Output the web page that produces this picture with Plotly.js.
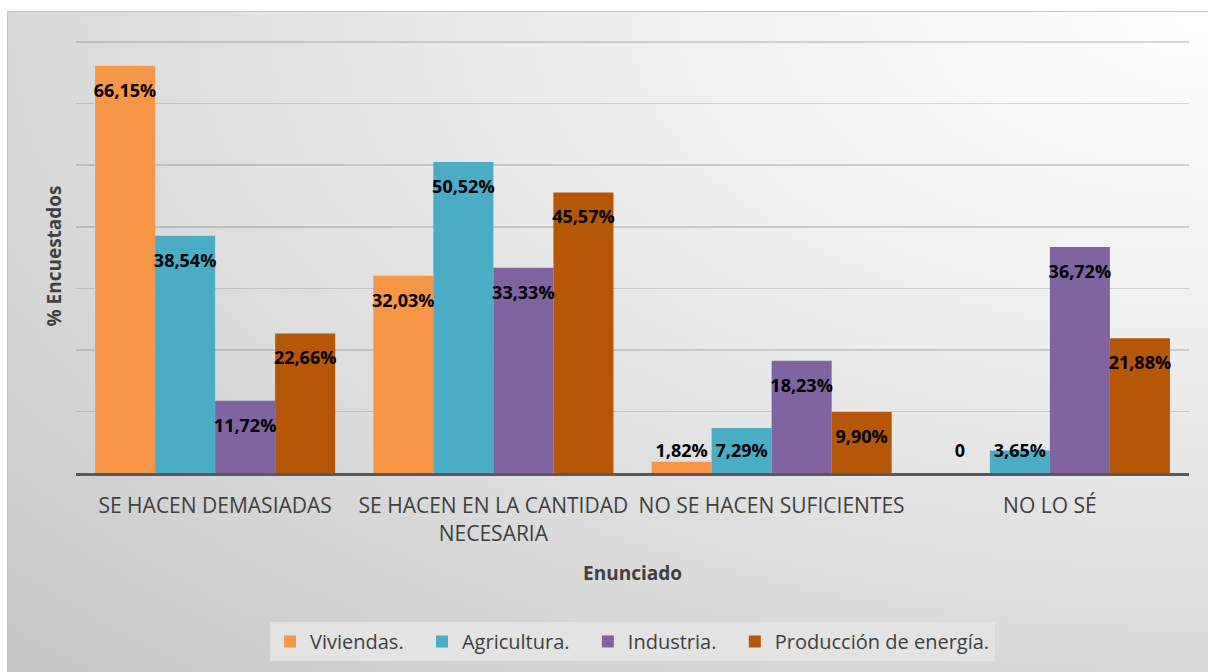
<!DOCTYPE html>
<html>
<head>
<meta charset="utf-8">
<script src="https://cdn.plot.ly/plotly-3.0.1.min.js"></script>
<style>
  html, body { margin: 0; padding: 0; background: #ffffff; width: 1208px; height: 672px; overflow: hidden; }
  #frame {
    position: absolute; left: 7px; top: 11px; width: 1201px; height: 661px;
    background: radial-gradient(ellipse at 100% 0%, #ffffff 0%, #ececec 40%, #d6d6d6 75%, #c6c6c6 100%);
    border-top: 1px solid #c8c8c8; border-left: 1px solid #c8c8c8; box-sizing: border-box;
  }
  #chart { position: absolute; left: 0; top: 0; width: 1200px; height: 660px; }
</style>
</head>
<body>
<div id="frame"><div id="chart"></div></div>
<script>
const categories = [
  "SE HACEN DEMASIADAS",
  "SE HACEN EN LA CANTIDAD<br>NECESARIA",
  "NO SE HACEN SUFICIENTES",
  "NO LO SÉ"
];
const seriesNames = ["Viviendas.", "Agricultura.", "Industria.", "Producción de energía."];
const viviendas    = [66.15, 32.03, 1.82, 0];
const agricultura  = [38.54, 50.52, 7.29, 3.65];
const industria    = [11.72, 33.33, 18.23, 36.72];
const produccion   = [22.66, 45.57, 9.90, 21.88];
const colors = ["#F79646", "#4BACC6", "#8064A2", "#B65708"];

const allSeries = [viviendas, agricultura, industria, produccion];
const fmt = v => v === 0 ? "0" : v.toFixed(2).replace(".", ",") + "%";
const LABEL_FLOOR = 7.6; // labels on very short bars sit just above the axis

const traces = [];
allSeries.forEach((vals, i) => {
  const pad = i < allSeries.length - 1 ? "\u2002\u2009" : "";
  traces.push({
    type: "bar", name: seriesNames[i] + pad, x: categories, y: vals,
    marker: { color: colors[i], line: { width: 0 } },
    offsetgroup: String(i), hoverinfo: "skip"
  });
});
allSeries.forEach((vals, i) => {
  traces.push({
    type: "scatter", mode: "markers+text", x: categories,
    y: vals.map(v => Math.max(v, LABEL_FLOOR)),
    marker: { size: 26, opacity: 0 },
    text: vals.map(fmt), textposition: "bottom center",
    textfont: { family: "Open Sans, sans-serif", size: 18, color: "#000000", weight: "bold" },
    offsetgroup: String(i), showlegend: false, hoverinfo: "skip", cliponaxis: false
  });
});

const layout = {
  width: 1200, height: 660,
  margin: { l: 68, r: 19, t: 27, b: 198 },
  paper_bgcolor: "rgba(0,0,0,0)", plot_bgcolor: "rgba(0,0,0,0)",
  barmode: "group", bargap: 0.137, bargroupgap: 0,
  scattermode: "group", scattergap: 0.137,
  font: { family: "Open Sans, sans-serif", color: "#595959" },
  xaxis: {
    type: "category",
    showline: true, linecolor: "#595959", linewidth: 3, layer: "above traces",
    showgrid: false, ticks: "", ticklabelstandoff: 12,
    tickfont: { size: 21, color: "#404040" },
    title: { text: "Enunciado", font: { size: 19, color: "#404040", weight: "bold" }, standoff: 22 }
  },
  yaxis: {
    range: [0, 70.5], tick0: 0, dtick: 10, showticklabels: false, ticks: "",
    showgrid: true, gridcolor: "rgba(110,110,110,0.27)", gridwidth: 1.5,
    zeroline: false, showline: false,
    title: { text: "% Encuestados", font: { size: 19, color: "#404040", weight: "bold" }, standoff: 8 }
  },
  showlegend: true,
  legend: {
    orientation: "h", x: 0.5, xanchor: "center", y: -0.385, yanchor: "middle",
    bgcolor: "#e3e3e3", borderwidth: 0,
    font: { size: 20, color: "#404040" },
    itemwidth: 30, traceorder: "normal"
  }
};

Plotly.newPlot("chart", traces, layout, { displayModeBar: false, staticPlot: true });
</script>
</body>
</html>
